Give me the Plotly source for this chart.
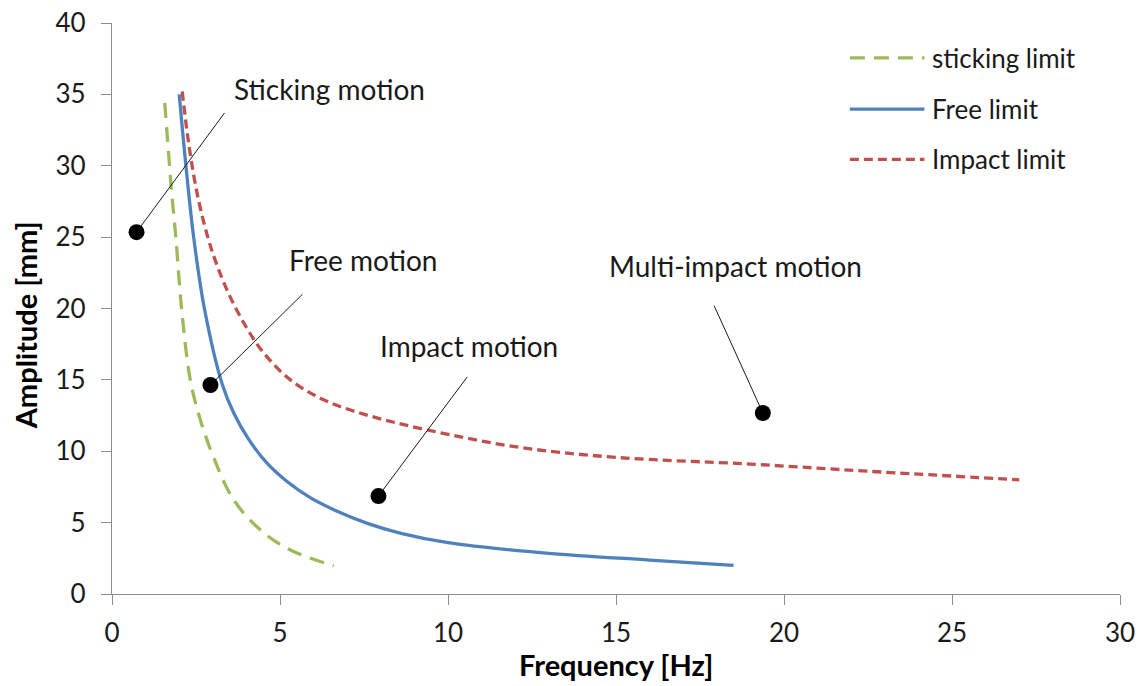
import plotly.graph_objects as go

# Stability limits of the impacting oscillator (frequency in Hz, amplitude in mm)
sticking_freq = [1.57, 1.68, 1.78, 1.90, 2.07, 2.33, 2.63, 3.02, 3.62, 4.42, 5.31, 6.60]
sticking_amp = [34.4, 31.0, 28.0, 25.0, 20.0, 15.0, 12.2, 9.6, 6.6, 4.48, 3.08, 1.98]

free_freq = [2.00, 2.20, 2.43, 2.75, 3.28, 3.62, 4.05, 4.60, 5.20, 5.90, 6.70, 7.60, 8.60, 10.0, 13.0, 16.0, 18.5]
free_amp = [35.0, 30.0, 25.0, 20.0, 14.7, 12.7, 10.9, 9.2, 7.9, 6.75, 5.8, 4.95, 4.25, 3.6, 2.85, 2.38, 2.0]

impact_freq = [2.09, 2.28, 2.53, 2.85, 3.13, 3.52, 4.02, 4.51, 5.31, 6.30, 7.49, 9.37, 12.05, 15.0, 19.0, 22.5, 27.0]
impact_amp = [35.2, 31.6, 28.1, 25.0, 23.0, 20.8, 18.6, 16.9, 15.0, 13.6, 12.6, 11.5, 10.3, 9.57, 9.1, 8.6, 8.0]

# Regions of motion: sample point, end of leader line, label anchor (left edge)
motion_labels = ["Sticking motion", "Free motion", "Impact motion", "Multi-impact motion"]
point_freq = [0.73, 2.93, 7.93, 19.37]
point_amp = [25.35, 14.64, 6.86, 12.68]
leader_freq = [3.35, 5.67, 10.57, 17.92]
leader_amp = [33.7, 21.0, 15.2, 20.2]
label_freq = [3.58, 5.22, 7.93, 14.73]
label_amp = [35.4, 23.4, 17.4, 23.0]

x_ticks = [0, 5, 10, 15, 20, 25, 30]
y_ticks = [0, 5, 10, 15, 20, 25, 30, 35, 40]

GREEN = "#9BBB59"
BLUE = "#4F81BD"
RED = "#C0504D"
FONT = "Lato"
AXIS_GREY = "#8C8C8C"
TEXT = "#1a1a1a"

series = [
    ("sticking limit", sticking_freq, sticking_amp, GREEN, "15px,9px"),
    ("Free limit", free_freq, free_amp, BLUE, "solid"),
    ("Impact limit", impact_freq, impact_amp, RED, "9px,5px"),
]

fig = go.Figure()

for name, xs, ys, color, dash in series:
    fig.add_trace(go.Scatter(
        x=xs, y=ys, name=name, mode="lines",
        line=dict(color=color, width=3.3, dash=dash, shape="spline", smoothing=1.0),
        showlegend=False, hoverinfo="skip",
    ))

# Leader lines and sample points for each motion region
for i, label in enumerate(motion_labels):
    fig.add_trace(go.Scatter(
        x=[point_freq[i], leader_freq[i]], y=[point_amp[i], leader_amp[i]],
        mode="lines", line=dict(color=TEXT, width=1),
        showlegend=False, hoverinfo="skip",
    ))
    fig.add_annotation(
        x=label_freq[i], y=label_amp[i], xref="x", yref="y",
        text=label, showarrow=False, xanchor="left", yanchor="middle",
        font=dict(family=FONT, size=28, color=TEXT),
    )

fig.add_trace(go.Scatter(
    x=point_freq, y=point_amp, mode="markers",
    marker=dict(color="black", size=16, line=dict(width=0)),
    showlegend=False, hoverinfo="skip",
))

# Legend drawn as line samples with labels (top right)
legend_rows_y = [0.939, 0.849, 0.761]
for (name, _, _, color, dash), ly in zip(series, legend_rows_y):
    fig.add_shape(
        type="line", xref="paper", yref="paper",
        x0=0.732, x1=0.806, y0=ly, y1=ly,
        line=dict(color=color, width=3.3, dash=dash),
    )
    fig.add_annotation(
        x=0.812, y=ly, xref="paper", yref="paper", text=name,
        showarrow=False, xanchor="left", yanchor="middle",
        font=dict(family=FONT, size=26, color=TEXT),
    )

# Axis titles
fig.add_annotation(
    x=-0.0857, y=18.8, xref="paper", yref="y", text="<b>Amplitude [mm]</b>",
    textangle=-90, showarrow=False, xanchor="center", yanchor="middle",
    font=dict(family=FONT, size=29, color="black"),
)
fig.add_annotation(
    x=0.5, y=-0.1235, xref="paper", yref="paper", text="<b>Frequency [Hz]</b>",
    showarrow=False, xanchor="center", yanchor="middle",
    font=dict(family=FONT, size=29, color="black"),
)

axis_common = dict(
    showgrid=False, zeroline=False, showline=True, linecolor=AXIS_GREY, linewidth=1.3,
    ticks="outside", ticklen=10, tickcolor=AXIS_GREY, tickwidth=1.3,
    tickfont=dict(family=FONT, size=26, color=TEXT), automargin=False,
)

fig.update_xaxes(
    range=[0, 30], tickvals=x_ticks, ticktext=[str(v) for v in x_ticks],
    ticklabelstandoff=6, **axis_common,
)
fig.update_yaxes(
    range=[0, 40], tickvals=y_ticks, ticktext=[str(v) for v in y_ticks],
    ticklabelstandoff=10, **axis_common,
)

fig.update_layout(
    width=1143, height=686,
    margin=dict(l=111.5, r=22.5, t=22.7, b=92),
    paper_bgcolor="white", plot_bgcolor="white",
    showlegend=False,
)

fig.write_html("out.html")
